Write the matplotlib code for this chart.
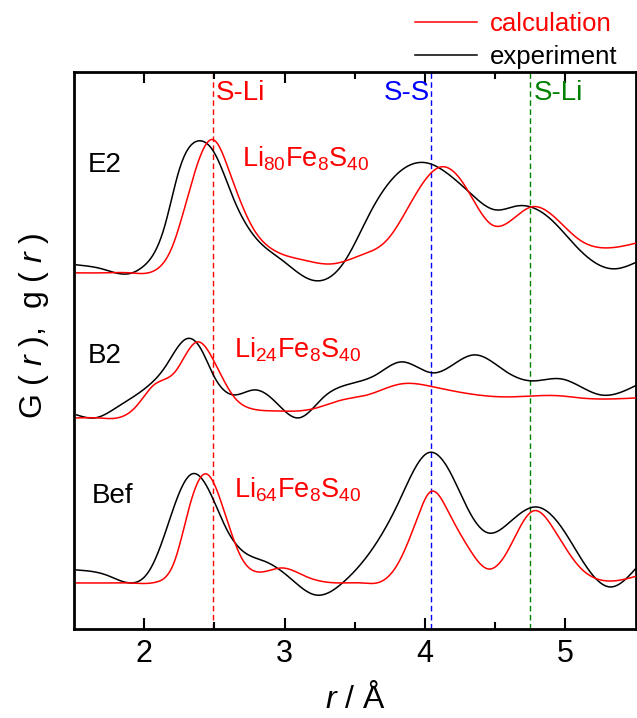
import numpy as np
import matplotlib.pyplot as plt

plt.rcParams['font.family'] = ['Liberation Sans', 'DejaVu Sans']
plt.rcParams['mathtext.fontset'] = 'custom'
plt.rcParams['mathtext.rm'] = 'Liberation Sans'
plt.rcParams['mathtext.it'] = 'Liberation Sans:italic'

# E2 (offset 3.55)
r_e2_exp = [1.52, 1.7, 1.885, 1.99, 2.145, 2.25, 2.39, 2.5, 2.64, 2.82, 2.98, 3.19, 3.42, 3.62, 3.81,
            4.01, 4.19, 4.32, 4.5, 4.66, 4.75, 4.9, 5.1, 5.345, 5.51]
g_e2_exp = [0.09, 0.05, 0.00, 0.07, 0.47, 1.04, 1.33, 1.21, 0.74, 0.32, 0.14, -0.06, 0.11, 0.64, 1.01,
            1.11, 0.97, 0.81, 0.64, 0.68, 0.67, 0.54, 0.24, 0.05, 0.12]
r_e2_calc = [1.52, 1.7, 1.9, 2.07, 2.2, 2.33, 2.495, 2.61, 2.77, 2.92, 3.13, 3.34, 3.55, 3.73, 3.94, 4.115,
             4.27, 4.477, 4.76, 4.92, 5.1, 5.31, 5.51]
g_e2_calc = [0.01, 0.01, 0.01, 0.03, 0.27, 0.87, 1.34, 1.01, 0.47, 0.24, 0.14, 0.10, 0.19, 0.34, 0.81, 1.07,
             0.91, 0.49, 0.67, 0.57, 0.34, 0.26, 0.31]

# B2 (offset 2.10)
r_b2_exp = [1.52, 1.65, 1.81, 2.02, 2.15, 2.3, 2.4, 2.5, 2.64, 2.79, 2.92, 3.1, 3.28, 3.44, 3.65,
            3.83, 4.06, 4.35, 4.58, 4.76, 4.97, 5.25, 5.51]
g_b2_exp = [0.04, 0.01, 0.12, 0.32, 0.52, 0.80, 0.71, 0.42, 0.24, 0.29, 0.19, 0.01, 0.22, 0.34, 0.44,
            0.57, 0.46, 0.64, 0.47, 0.38, 0.40, 0.24, 0.34]
r_b2_calc = [1.52, 1.67, 1.81, 1.94, 2.07, 2.22, 2.378, 2.5, 2.64, 2.77, 2.92, 3.2, 3.41, 3.59, 3.83,
             4.06, 4.32, 4.58, 4.97, 5.1, 5.51]
g_b2_calc = [0.01, 0.01, 0.01, 0.12, 0.34, 0.47, 0.77, 0.57, 0.22, 0.10, 0.08, 0.10, 0.19, 0.24, 0.35,
             0.32, 0.25, 0.22, 0.23, 0.21, 0.21]

# Bef (offset 0.46)
r_bef_exp = [1.52, 1.73, 1.91, 2.04, 2.14, 2.25, 2.34, 2.46, 2.59, 2.72, 2.87, 3.03, 3.22, 3.42,
             3.62, 3.81, 4.02, 4.17, 4.32, 4.45, 4.58, 4.79, 4.97, 5.15, 5.32, 5.51]
g_bef_exp = [0.13, 0.08, 0.00, 0.13, 0.46, 0.90, 1.09, 0.93, 0.53, 0.30, 0.21, 0.06, -0.12, 0.01,
             0.33, 0.80, 1.30, 1.13, 0.70, 0.50, 0.58, 0.76, 0.56, 0.16, -0.04, 0.16]
r_bef_calc = [1.52, 1.7, 1.9, 2.09, 2.22, 2.33, 2.443, 2.56, 2.69, 2.81, 2.98, 3.16, 3.39, 3.55, 3.68,
              3.81, 3.94, 4.037, 4.17, 4.32, 4.45, 4.58, 4.77, 4.92, 5.1, 5.25, 5.51]
g_bef_calc = [0.00, 0.00, 0.00, 0.01, 0.23, 0.80, 1.09, 0.76, 0.26, 0.11, 0.15, 0.06, 0.00, 0.00, 0.01,
              0.20, 0.63, 0.91, 0.70, 0.33, 0.14, 0.30, 0.72, 0.53, 0.16, 0.03, 0.07]

samples = ['E2', 'B2', 'Bef']
offsets = [3.55, 2.10, 0.46]
formulas = [r'Li$_{80}$Fe$_{8}$S$_{40}$', r'Li$_{24}$Fe$_{8}$S$_{40}$', r'Li$_{64}$Fe$_{8}$S$_{40}$']

bonds = [2.488, 4.045, 4.75]
bond_names = ['S-Li', 'S-S', 'S-Li']
bond_colors = ['red', 'blue', 'green']


def spline(x, y, xn):
    # natural cubic spline
    x = np.asarray(x, float)
    y = np.asarray(y, float)
    n = len(x)
    h = np.diff(x)
    A = np.zeros((n, n))
    rhs = np.zeros(n)
    A[0, 0] = A[-1, -1] = 1
    for i in range(1, n - 1):
        A[i, i - 1] = h[i - 1]
        A[i, i] = 2 * (h[i - 1] + h[i])
        A[i, i + 1] = h[i]
        rhs[i] = 6 * ((y[i + 1] - y[i]) / h[i] - (y[i] - y[i - 1]) / h[i - 1])
    M = np.linalg.solve(A, rhs)
    idx = np.clip(np.searchsorted(x, xn) - 1, 0, n - 2)
    a = x[idx + 1] - xn
    b = xn - x[idx]
    hh = h[idx]
    return (M[idx] * a**3 + M[idx + 1] * b**3) / (6 * hh) + \
        (y[idx] / hh - M[idx] * hh / 6) * a + (y[idx + 1] / hh - M[idx + 1] * hh / 6) * b


curves = [
    (r_e2_calc, g_e2_calc, r_e2_exp, g_e2_exp),
    (r_b2_calc, g_b2_calc, r_b2_exp, g_b2_exp),
    (r_bef_calc, g_bef_calc, r_bef_exp, g_bef_exp),
]

fig = plt.figure(figsize=(6.37, 7.18), dpi=100)
ax = fig.add_axes([0.116, 0.124, 0.882, 0.776])

for i, (rc, gc, re, ge) in enumerate(curves):
    off = offsets[i]
    xf = np.linspace(min(rc), max(rc), 800)
    ax.plot(xf, spline(rc, gc, xf) + off, color='red', lw=1.1,
            label='calculation' if i == 0 else None, zorder=3)
    xf = np.linspace(min(re), max(re), 800)
    ax.plot(xf, spline(re, ge, xf) + off, color='black', lw=1.1,
            label='experiment' if i == 0 else None, zorder=2)

ax.text(1.6, offsets[0] + 1.02, samples[0], fontsize=20)
ax.text(1.6, offsets[1] + 0.56, samples[1], fontsize=20)
ax.text(1.63, offsets[2] + 0.80, samples[2], fontsize=20)
ax.text(2.695, offsets[0] + 1.07, formulas[0], fontsize=19.5, color='red')
ax.text(2.64, offsets[1] + 0.61, formulas[1], fontsize=19.5, color='red')
ax.text(2.64, offsets[2] + 0.85, formulas[2], fontsize=19.5, color='red')

for b, n, c in zip(bonds, bond_names, bond_colors):
    ax.axvline(b, color=c, ls=(0, (4, 2.5)), lw=1.0, zorder=1)
    if n == 'S-S':
        ax.text(b - 0.01, 5.29, n, color=c, fontsize=20, ha='right')
    else:
        ax.text(b + 0.025, 5.29, n, color=c, fontsize=20, ha='left')

ax.set_xlim(1.5, 5.5)
ax.set_ylim(0, 5.57)
ax.set_xticks([2, 3, 4, 5])
ax.set_xticks([2.5, 3.5, 4.5], minor=True)
ax.set_yticks([])
ax.tick_params(axis='x', which='both', direction='in', top=True, width=1.5, labelsize=22, pad=7)
ax.tick_params(axis='x', which='major', length=8)
ax.tick_params(axis='x', which='minor', length=5)
for s in ax.spines.values():
    s.set_linewidth(2)

ax.set_xlabel(r'$r$ / Å', fontsize=23, labelpad=10)
ax.set_ylabel(r'G ( $r$ ),  g ( $r$ )', fontsize=23)
ax.yaxis.set_label_coords(-0.04, 0.545)

leg = fig.legend(loc='upper right', bbox_to_anchor=(1.005, 1.015), frameon=False, fontsize=18.5,
                 handlelength=2.4, handletextpad=0.5, labelspacing=0.32, labelcolor='linecolor')

fig.savefig('out.png', dpi=100)
